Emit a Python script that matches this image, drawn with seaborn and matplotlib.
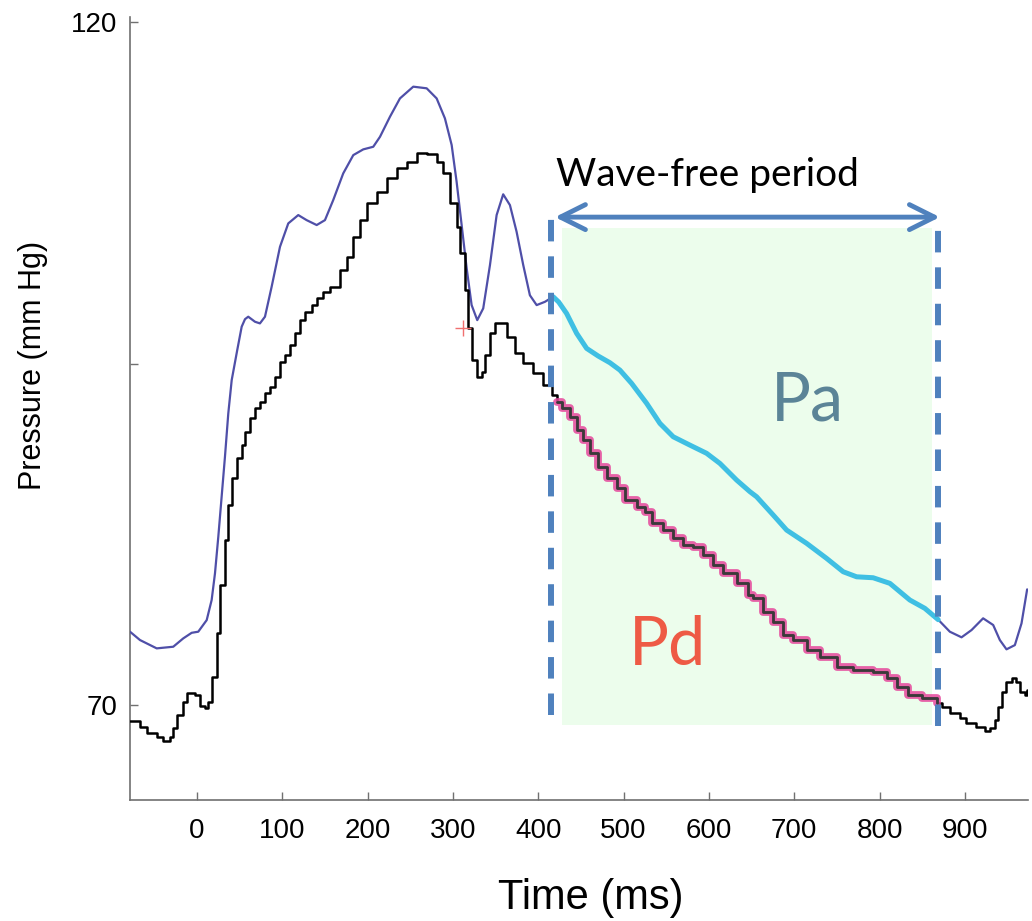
import numpy as np
import pandas as pd
import matplotlib
matplotlib.use("Agg")
import matplotlib.pyplot as plt
import seaborn as sns

# ---------------- data ----------------
pa_time = [-78.5, -66.8, -47.2, -27.8, -16.1, -6.2, 1.5, 11.4, 17.2, 21.1, 25.0, 28.9,
           32.8, 36.7, 40.7, 47.2, 52.4, 56.3, 60.1, 68.0, 73.8, 79.7, 87.5, 97.3,
           107.0, 118.7, 128.5, 140.3, 150.0, 159.7, 171.4, 183.2, 194.9, 206.6, 214.5,
           226.2, 237.9, 253.5, 269.2, 280.9, 290.6, 298.5, 304.3, 310.2, 316.1, 321.9,
           328.5, 335.5, 343.4, 351.2, 358.9, 366.8, 374.6, 382.4, 390.2, 398.1, 407.8,
           417.5, 424.0, 433.2, 445.0, 456.7, 470.3, 484.0, 495.7, 509.4, 527.0, 542.6,
           558.2, 577.7, 597.3, 612.9, 632.5, 648.1, 655.9, 675.4, 691.1, 714.5, 737.9,
           757.4, 773.1, 792.5, 812.1, 835.5, 853.1, 864.8, 868.8, 882.4, 896.1, 907.8,
           921.4, 933.2, 941.0, 948.8, 958.6, 966.4, 973.0]
pa_pressure = [75.37, 74.76, 74.15, 74.27, 74.88, 75.29, 75.37, 76.22, 77.69, 79.64, 82.32, 85.25,
               88.18, 91.35, 93.79, 95.99, 97.7, 98.25, 98.43, 98.06, 97.94, 98.43, 100.62, 103.55,
               105.26, 105.87, 105.5, 105.14, 105.5, 106.97, 108.92, 110.26, 110.68, 110.87, 111.6,
               113.07, 114.41, 115.27, 115.15, 114.41, 112.95, 111.0, 108.31, 105.14, 101.97, 99.28,
               98.18, 99.04, 102.21, 105.87, 107.39, 106.6, 104.65, 102.21, 100.0, 99.28, 99.52,
               99.89, 99.5, 98.67, 97.21, 96.11, 95.55, 95.06, 94.52, 93.55, 92.09, 90.62,
               89.64, 89.03, 88.43, 87.69, 86.47, 85.62, 85.25, 83.91, 82.81, 81.84, 80.74,
               79.76, 79.39, 79.32, 78.91, 77.69, 77.08, 76.46, 76.25, 75.37, 74.96, 75.49,
               76.35, 75.86, 74.76, 74.08, 74.39, 75.98, 78.47]

pd_time = [-78.5, -66.8, -58.6, -46.9, -39.8, -31.6, -28.1, -23.8, -16.1, -12.1, -2.3, 3.5,
           9.4, 13.2, 17.2, 23.1, 27.0, 32.8, 36.7, 40.7, 46.5, 52.4, 56.3, 62.1, 68.0,
           73.8, 79.7, 85.5, 91.4, 97.3, 103.1, 109.0, 114.8, 120.7, 126.6, 134.4, 140.3,
           148.0, 155.9, 167.6, 175.4, 183.2, 191.0, 198.9, 210.6, 222.3, 234.0, 245.7,
           257.5, 269.2, 280.9, 288.6, 296.5, 304.3, 308.2, 314.1, 318.0, 321.9, 327.8,
           333.6, 337.5, 343.4, 349.2, 355.1, 362.9, 372.7, 382.4, 394.1, 405.8, 415.6,
           421.5, 427.4, 437.1, 445.0, 452.7, 460.5, 470.3, 480.1, 491.8, 501.6, 515.3,
           525.0, 532.8, 546.4, 558.2, 569.9, 581.6, 593.3, 605.0, 616.8, 632.5, 646.1,
           652.0, 663.7, 675.4, 687.1, 698.8, 714.5, 730.1, 749.6, 769.1, 792.5, 808.2,
           819.9, 833.5, 849.2, 866.8, 873.0, 882.4, 894.1, 901.9, 913.6, 923.4, 929.3,
           935.1, 939.0, 943.0, 948.8, 954.7, 960.5, 964.4, 970.3, 973.0]
pd_pressure = [68.83, 68.39, 67.95, 67.66, 67.37, 67.66, 68.32, 69.27, 70.24, 70.9, 70.73, 69.93,
               69.76, 70.24, 72.07, 75.25, 78.78, 82.08, 84.64, 86.6, 88.06, 89.03, 90.01, 90.99, 91.72,
               92.2, 92.82, 93.3, 94.03, 95.13, 95.62, 96.35, 97.21, 98.18, 98.79, 99.28, 99.77,
               100.26, 100.62, 101.84, 102.82, 104.28, 105.5, 106.73, 107.58, 108.56, 109.29, 109.77,
               110.39, 110.34, 109.77, 108.92, 106.73, 105.01, 103.07, 100.38, 97.58, 95.26, 94.03,
               94.4, 95.62, 97.21, 97.99, 97.94, 96.96, 95.75, 95.01, 94.28, 93.43, 92.69,
               92.2, 91.72, 91.11, 90.13, 89.4, 88.43, 87.45, 86.6, 85.86, 85.01, 84.52,
               84.15, 83.3, 82.81, 82.2, 81.71, 81.59, 80.98, 80.25, 79.64, 78.91, 78.05,
               77.81, 76.83, 76.1, 75.13, 74.76, 74.03, 73.54, 72.8, 72.56, 72.44, 71.96,
               71.34, 70.73, 70.49, 70.12, 69.85, 69.4, 69.03, 68.66, 68.41, 68.1, 68.3,
               68.9, 69.88, 70.97, 71.7, 71.96, 71.7, 70.97, 70.73, 71.1]

# wave-free period annotation values
wf_start, wf_end = 415.0, 868.4           # dashed boundaries (ms)
wf_left_bottom, wf_right_bottom, wf_top = 69.3, 68.5, 105.7
pa_wf_range = (417.0, 869.0)
pd_wf_range = (421.0, 867.0)
shade_x = (427.7, 861.3)
shade_y = (68.54, 104.92)
arrow_x = (419.6, 870.7)
arrow_y = 105.72
marker_t, marker_p = 311.7, 97.6

x_ticks = [0, 100, 200, 300, 400, 500, 600, 700, 800, 900]
y_ticks = [70, 95, 120]
y_tick_labels = ["70", "", "120"]

# ---------------- plotting ----------------
sns.set_style("white")
plt.rcParams["font.family"] = ["Liberation Sans", "DejaVu Sans"]
plt.rcParams["text.color"] = "black"
plt.rcParams["axes.labelcolor"] = "black"

fig = plt.figure(figsize=(10.32, 9.21), dpi=100)
ax = fig.add_axes([130 / 1032, 1 - 800 / 921, 898 / 1032, 783 / 921])

pa_df = pd.DataFrame({"t": pa_time, "p": pa_pressure})
pd_df = pd.DataFrame({"t": pd_time, "p": pd_pressure})
pa_wf = pa_df[(pa_df.t >= pa_wf_range[0]) & (pa_df.t <= pa_wf_range[1])]
pd_wf = pd_df[(pd_df.t >= pd_wf_range[0]) & (pd_df.t <= pd_wf_range[1])]

# shaded wave-free region
ax.fill_between(list(shade_x), shade_y[0], shade_y[1], color="#ECFDEC", lw=0, zorder=0)

# Pa (blue) full trace
sns.lineplot(data=pa_df, x="t", y="p", ax=ax, color="#4F4FA8", lw=1.6,
             estimator=None, sort=False, zorder=3)
# Pa inside wave-free period (cyan)
sns.lineplot(data=pa_wf, x="t", y="p", ax=ax, color="#3FBFE3", lw=3.6,
             estimator=None, sort=False, zorder=4, solid_capstyle="round")

# Pd (black step) full trace
sns.lineplot(data=pd_df, x="t", y="p", ax=ax, color="black", lw=1.8,
             estimator=None, sort=False, drawstyle="steps-post", zorder=3)
# Pd inside wave-free period: magenta outline + dark line
sns.lineplot(data=pd_wf, x="t", y="p", ax=ax, color="#E5479B", lw=5.6, alpha=0.85,
             estimator=None, sort=False, drawstyle="steps-post", zorder=4)
sns.lineplot(data=pd_wf, x="t", y="p", ax=ax, color="#3A3A3A", lw=2.0,
             estimator=None, sort=False, drawstyle="steps-post", zorder=5)

# small red cross marker
ax.plot([marker_t], [marker_p], marker="+", ms=11, mew=1.0, color="#F07070", zorder=6)

# dashed boundaries
dash_kw = dict(color="#4F81BD", lw=4.3, linestyle=(0, (3.6, 2.5)), dash_capstyle="butt", zorder=6)
ax.plot([wf_start, wf_start], [wf_left_bottom, wf_top], **dash_kw)
ax.plot([wf_end, wf_end], [wf_right_bottom, wf_top - 0.9], **dash_kw)

# double arrow
ax.annotate("", xy=(arrow_x[1], arrow_y), xytext=(arrow_x[0], arrow_y),
            arrowprops=dict(arrowstyle="<->,head_length=0.6,head_width=0.3",
                            lw=3.5, color="#4F81BD", mutation_scale=30,
                            shrinkA=0, shrinkB=0), zorder=7)

ax.text(598.8, 108.0, "Wave-free period", ha="center", va="baseline",
        fontsize=28, family=["Lato", "DejaVu Sans"], color="black")
ax.text(716, 90.8, "Pa", ha="center", va="baseline", fontsize=48,
        family=["Lato", "DejaVu Sans"], color="#5B8497")
ax.text(552, 72.9, "Pd", ha="center", va="baseline", fontsize=48,
        family=["Lato", "DejaVu Sans"], color="#EE5A45")

# axes styling
ax.set_xlim(-78.5, 974)
ax.set_ylim(63.05, 120.37)
ax.set_xticks(x_ticks)
ax.set_xticklabels([str(v) for v in x_ticks])
ax.set_yticks(y_ticks)
ax.set_yticklabels(y_tick_labels)
for s in ["top", "right"]:
    ax.spines[s].set_visible(False)
for s in ["left", "bottom"]:
    ax.spines[s].set_color("#707070")
    ax.spines[s].set_linewidth(1.2)
ax.tick_params(axis="both", which="major", direction="in", length=6, width=1.0,
               color="#707070", labelsize=20, labelcolor="black",
               bottom=True, left=True, top=False, right=False)
ax.tick_params(axis="x", pad=13)
ax.tick_params(axis="y", pad=9)

ax.set_xlabel("Time (ms)", fontsize=30, color="black")
ax.xaxis.set_label_coords((591 - 130) / 898, (800 - 878) / 783)
ax.xaxis.label.set_va("top")
ax.set_ylabel("Pressure (mm Hg)", fontsize=22, color="black")
ax.yaxis.set_label_coords((48 - 130) / 898, (800 - 365) / 783)

fig.savefig("out.png", dpi=100)
